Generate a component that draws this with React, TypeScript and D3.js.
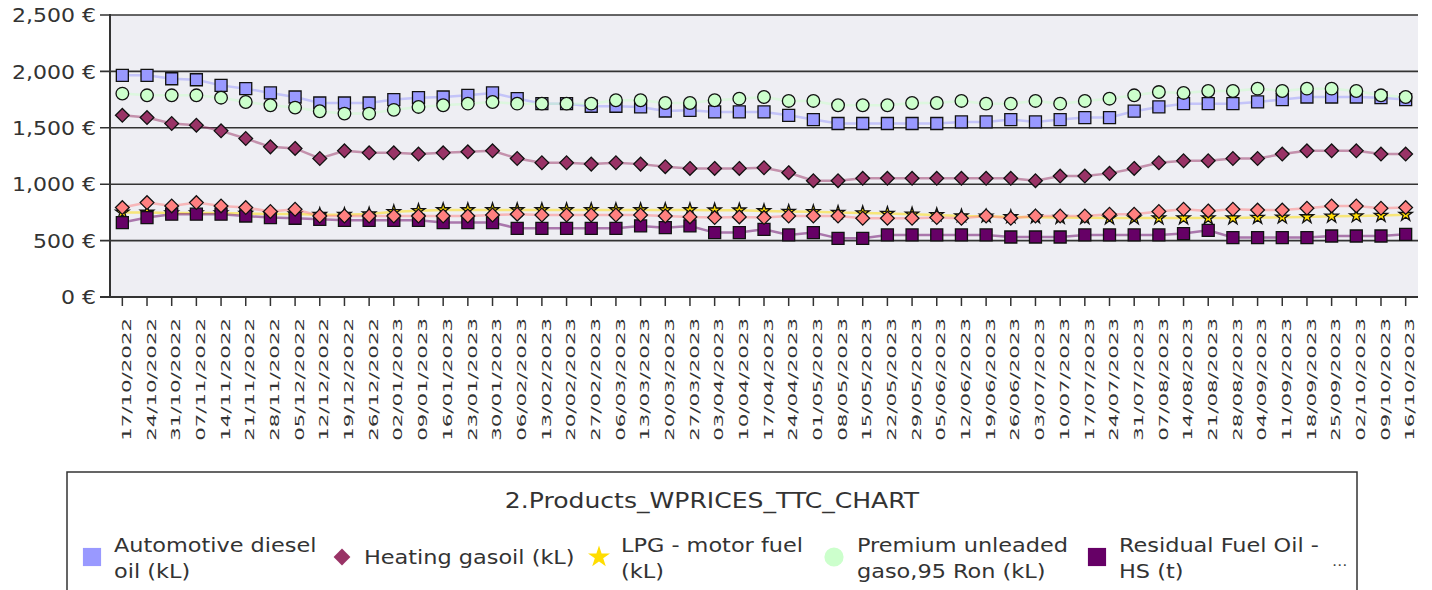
import React from 'react';
import * as d3 from 'd3';

// weekly price dates
const dates = [
  '17/10/2022', '24/10/2022', '31/10/2022', '07/11/2022', '14/11/2022', '21/11/2022', '28/11/2022',
  '05/12/2022', '12/12/2022', '19/12/2022', '26/12/2022', '02/01/2023', '09/01/2023', '16/01/2023',
  '23/01/2023', '30/01/2023', '06/02/2023', '13/02/2023', '20/02/2023', '27/02/2023', '06/03/2023',
  '13/03/2023', '20/03/2023', '27/03/2023', '03/04/2023', '10/04/2023', '17/04/2023', '24/04/2023',
  '01/05/2023', '08/05/2023', '15/05/2023', '22/05/2023', '29/05/2023', '05/06/2023', '12/06/2023',
  '19/06/2023', '26/06/2023', '03/07/2023', '10/07/2023', '17/07/2023', '24/07/2023', '31/07/2023',
  '07/08/2023', '14/08/2023', '21/08/2023', '28/08/2023', '04/09/2023', '11/09/2023', '18/09/2023',
  '25/09/2023', '02/10/2023', '09/10/2023', '16/10/2023',
];

const diesel = [
  1965, 1965, 1935, 1926, 1876, 1847, 1809, 1773, 1720, 1720, 1720, 1750, 1767, 1773, 1788, 1809,
  1759, 1714, 1714, 1691, 1691, 1685, 1649, 1655, 1641, 1641, 1641, 1611, 1573, 1538, 1538, 1538,
  1538, 1538, 1552, 1552, 1573, 1552, 1573, 1591, 1591, 1647, 1685, 1714, 1714, 1714, 1729, 1750,
  1773, 1773, 1773, 1767, 1750,
];

const heatingGasoil = [
  1611, 1591, 1538, 1523, 1473, 1405, 1331, 1317, 1228, 1296, 1278, 1278, 1267, 1278, 1287, 1296,
  1228, 1190, 1190, 1178, 1190, 1178, 1155, 1140, 1140, 1140, 1146, 1102, 1031, 1031, 1052, 1052,
  1052, 1052, 1052, 1052, 1052, 1031, 1072, 1072, 1096, 1140, 1190, 1208, 1208, 1228, 1228, 1267,
  1296, 1296, 1296, 1267, 1267,
];

const lpgMotorFuel = [
  750, 750, 745, 745, 745, 740, 735, 735, 730, 730, 735, 755, 765, 772, 772, 772, 772, 772, 772, 772,
  772, 772, 772, 772, 770, 770, 763, 758, 755, 749, 745, 740, 734, 728, 718, 716, 710, 708, 704, 702,
  700, 700, 700, 700, 700, 700, 704, 707, 710, 715, 718, 722, 730,
];

const premium95 = [
  1803, 1788, 1788, 1788, 1767, 1729, 1700, 1679, 1647, 1626, 1626, 1659, 1685, 1700, 1714, 1729,
  1714, 1714, 1714, 1714, 1744, 1744, 1720, 1720, 1744, 1758, 1773, 1738, 1738, 1700, 1700, 1700,
  1720, 1720, 1738, 1714, 1714, 1738, 1714, 1738, 1758, 1788, 1817, 1809, 1826, 1826, 1847, 1826,
  1847, 1847, 1826, 1788, 1773,
];

const residualHS = [
  660, 704, 734, 734, 734, 718, 704, 698, 689, 680, 680, 680, 680, 660, 660, 660, 609, 609, 609, 609,
  609, 630, 615, 630, 571, 571, 600, 550, 571, 520, 520, 550, 550, 550, 550, 550, 532, 532, 532, 550,
  550, 550, 550, 562, 591, 527, 527, 527, 527, 541, 541, 541, 556,
];

// sixth series, cut off in the legend ("...")
const residualLS = [
  793, 837, 807, 837, 807, 793, 758, 778, 718, 718, 718, 718, 718, 718, 718, 727, 734, 727, 727, 727,
  727, 727, 718, 710, 704, 710, 704, 718, 718, 718, 698, 698, 698, 704, 698, 718, 698, 718, 718, 718,
  734, 734, 758, 778, 763, 778, 771, 771, 787, 807, 807, 787, 793,
];

const yTicks = [0, 500, 1000, 1500, 2000, 2500];

const chartTitle = '2.Products_WPRICES_TTC_CHART';

const series = [
  { values: diesel, color: '#9999ff', shape: 'square', legend: ['Automotive diesel', 'oil (kL)'] },
  { values: heatingGasoil, color: '#993366', shape: 'diamond', legend: ['Heating gasoil (kL)'] },
  { values: lpgMotorFuel, color: '#ffdd00', shape: 'star', legend: ['LPG - motor fuel', '(kL)'] },
  { values: premium95, color: '#ccffcc', shape: 'circle', legend: ['Premium unleaded', 'gaso,95 Ron (kL)'] },
  { values: residualHS, color: '#660066', shape: 'square', legend: ['Residual Fuel Oil -', 'HS (t)'] },
  { values: residualLS, color: '#ff8080', shape: 'diamond', legend: null },
];

const W = 1432, H = 590;
const plot = { left: 110, right: 1418, top: 15, bottom: 297 };
const FONT = 'DejaVu Sans, Verdana, sans-serif';
const INK = '#333';

const symType = (shape: string) => {
  if (shape === 'square') return d3.symbolSquare;
  if (shape === 'diamond') return (d3 as any).symbolDiamond2 || d3.symbolDiamond;
  if (shape === 'star') return d3.symbolStar;
  return d3.symbolCircle;
};

const markerSize: Record<string, number> = { square: 144, diamond: 120, star: 55, circle: 125 };
const legendSize: Record<string, number> = { square: 330, diamond: 180, star: 150, circle: 290 };

// text stretched horizontally, like the reference
const SText = ({ x, y, sx = 1, children, ...rest }: any) => (
  <g transform={`translate(${x},${y}) scale(${sx},1)`}>
    <text fontFamily={FONT} fill={INK} {...rest}>{children}</text>
  </g>
);

export default function App() {
  const x = d3.scalePoint<string>().domain(dates).range([plot.left, plot.right]).padding(0.5);
  const y = d3.scaleLinear().domain([0, 2500]).range([plot.bottom, plot.top]);

  const line = (vals: number[]) =>
    d3.line<number>().x((_, i) => x(dates[i])!).y((v) => y(v))(vals) || '';

  const legendX = [83, 333, 590, 825, 1088];

  return (
    <div style={{ position: 'fixed', left: 0, top: 0, width: W, height: H, overflow: 'hidden', background: '#fff' }}>
      <svg width={W} height={H} style={{ display: 'block' }}>
        {/* plot background */}
        <rect x={plot.left} y={plot.top} width={plot.right - plot.left} height={plot.bottom - plot.top} fill="#eeeef3" />

        {/* gridlines + y labels */}
        {yTicks.map((t) => (
          <g key={t}>
            <line x1={100} x2={plot.right} y1={y(t)} y2={y(t)} stroke="#333" strokeWidth={t === 0 ? 2 : 1.6} />
            <SText x={96} y={y(t)} sx={1.1} fontSize={20} textAnchor="end" dy="0.36em">
              {d3.format(',')(t) + ' €'}
            </SText>
          </g>
        ))}
        <line x1={plot.left} x2={plot.left} y1={plot.top - 1} y2={plot.bottom + 1} stroke="#333" strokeWidth={2} />

        {/* x ticks + labels */}
        {dates.map((d) => (
          <g key={d}>
            <line x1={x(d)} x2={x(d)} y1={plot.bottom} y2={plot.bottom + 9} stroke="#333" strokeWidth={1.5} />
            <text
              transform={`translate(${x(d)! + 4},318) rotate(-90) scale(1.64,1)`}
              textAnchor="end"
              dy="0.36em"
              fontFamily={FONT}
              fontSize={13}
              fill={INK}
            >
              {d}
            </text>
          </g>
        ))}

        {/* series */}
        {series.map((s, si) => (
          <g key={si}>
            <path d={line(s.values)} fill="none" stroke={s.color} strokeWidth={2.5} strokeOpacity={0.5} />
            {s.values.map((v, i) => (
              <path
                key={i}
                transform={`translate(${x(dates[i])},${y(v)})`}
                d={d3.symbol().type(symType(s.shape)).size(markerSize[s.shape])() || ''}
                fill={s.color}
                stroke="#111"
                strokeWidth={1.3}
              />
            ))}
          </g>
        ))}

        {/* legend */}
        <rect x={67} y={472} width={1290} height={140} fill="#fff" stroke="#333" strokeWidth={1.5} />
        <SText x={712} y={508} sx={1.14} fontSize={22} textAnchor="middle">
          {chartTitle}
        </SText>
        {series
          .filter((s) => s.legend)
          .map((s, i) => {
            const lx = legendX[i];
            const lines = s.legend as string[];
            return (
              <g key={i}>
                <path
                  transform={`translate(${lx + 9},557)`}
                  d={d3.symbol().type(symType(s.shape)).size(legendSize[s.shape])() || ''}
                  fill={s.color}
                />
                {lines.map((t, li) => (
                  <SText
                    key={li}
                    x={lx + (s.shape === 'circle' ? 32 : 31)}
                    y={lines.length === 1 ? 564 : 552 + li * 26}
                    sx={1.12}
                    fontSize={20}
                  >
                    {t}
                  </SText>
                ))}
              </g>
            );
          })}
        <SText x={1332} y={566} sx={1.1} fontSize={14} fill="#444">…</SText>
      </svg>
    </div>
  );
}
